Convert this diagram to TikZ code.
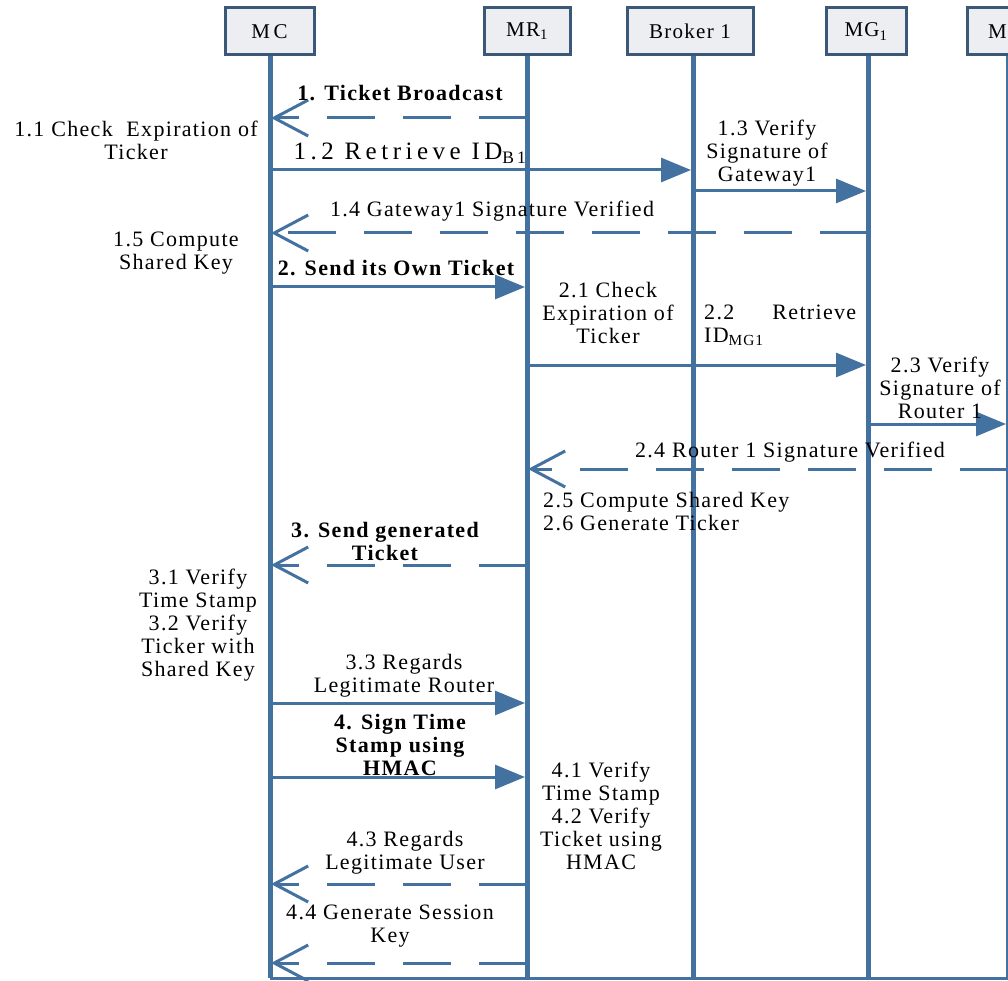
\documentclass[tikz,border=0pt]{standalone}
\usepackage{fontspec}
\setmainfont[LetterSpace=6]{Liberation Serif}
\usetikzlibrary{arrows.meta}
\definecolor{lifeblue}{RGB}{68,114,160}
\definecolor{boxedge}{RGB}{60,88,120}
\definecolor{boxfill}{RGB}{236,238,242}
\tikzset{
  actor/.style={draw=boxedge, line width=3pt, fill=boxfill, minimum height=47pt,
    inner sep=0pt, font=\fontsize{21}{23}\selectfont},
  lifeline/.style={draw=lifeblue, line width=5pt},
  msg/.style={draw=lifeblue, line width=3pt, -{Triangle[length=30pt,width=24pt]}},
  reply/.style={draw=lifeblue, line width=3pt, dash pattern=on 48pt off 28pt,
    -{Straight Barb[length=34pt,width=36pt,line width=3pt]}},
  lbl/.style={font=\fontsize{22}{23}\selectfont, align=center, inner sep=0pt},
  blbl/.style={lbl, font=\fontsize{22}{23}\selectfont\bfseries},
}
\begin{document}
\begin{tikzpicture}[x=1pt,y=-1pt]
\useasboundingbox (0,0) rectangle (1008,981);
\clip (0,0) rectangle (1008,981);

% participants
\node[actor, minimum width=89pt] (mc) at (269.5,31.5) {M\,C};
\node[actor, minimum width=86pt] (mr) at (527,31.5) {MR\textsubscript{1}};
\node[actor, minimum width=126pt] (br) at (690,31.5) {Broker 1};
\node[actor, minimum width=80pt] (mg) at (866,31.5) {MG\textsubscript{1}};
\node[actor, minimum width=84pt] (mr2) at (1009,31.5) {};
\node[font=\fontsize{21}{23}\selectfont, anchor=west, inner sep=0pt] (mr2t) at (988,31.5) {M};

% lifeline ends
\coordinate (mcB) at (270,978);
\coordinate (mrB) at (527,978);
\coordinate (brB) at (693,978);
\coordinate (mgB) at (868,978);
\coordinate (mr2B) at (1008,978);
\coordinate (edge) at (1010,978);

\draw[lifeline] (mc.south -| mcB) -- (mcB);
\draw[lifeline] (mr.south -| mrB) -- (mrB);
\draw[lifeline] (br.south -| brB) -- (brB);
\draw[lifeline] (mg.south -| mgB) -- (mgB);
\draw[lifeline] (mr2.south -| mr2B) -- (mr2B);
\draw[draw=lifeblue, line width=3pt] (mcB) -- (edge);

% message end points
\coordinate (a1s) at (527,118);  \coordinate (a1e) at (271,118);
\coordinate (a2s) at (270,170);  \coordinate (a2e) at (691,170);
\coordinate (a3s) at (693,191);  \coordinate (a3e) at (866,191);
\coordinate (a4s) at (868,233);  \coordinate (a4e) at (271,233);
\coordinate (a5s) at (270,287);  \coordinate (a5e) at (525,287);
\coordinate (a6s) at (527,365);  \coordinate (a6e) at (866,365);
\coordinate (a7s) at (868,424);  \coordinate (a7e) at (1006,424);
\coordinate (a8s) at (1008,469); \coordinate (a8e) at (528,469);
\coordinate (a9s) at (527,565);  \coordinate (a9e) at (271,565);
\coordinate (a10s) at (270,703); \coordinate (a10e) at (525,703);
\coordinate (a11s) at (270,777); \coordinate (a11e) at (525,777);
\coordinate (a12s) at (527,884); \coordinate (a12e) at (271,884);
\coordinate (a13s) at (527,963); \coordinate (a13e) at (271,963);

% messages
\draw[reply] (a1s) -- (a1e);
\draw[msg] (a2s) -- (a2e);
\draw[msg] (a3s) -- (a3e);
\draw[reply] (a4s) -- (a4e);
\draw[msg] (a5s) -- (a5e);
\draw[msg] (a6s) -- (a6e);
\draw[msg] (a7s) -- (a7e);
\draw[reply] (a8s) -- (a8e);
\draw[reply] (a9s) -- (a9e);
\draw[msg] (a10s) -- (a10e);
\draw[msg] (a11s) -- (a11e);
\draw[reply] (a12s) -- (a12e);
\draw[reply] (a13s) -- (a13e);

% labels
\node[blbl] (t1) at (400,93) {1. Ticket Broadcast};
\node[lbl] (t11) at (136,140) {1.1 Check\ \ Expiration of\\Ticker};
\node[lbl, font=\fontsize{25}{26}\selectfont\addfontfeature{LetterSpace=18}] (t12) at (410,153)
  {1.2 Retrieve ID\textsubscript{B1}};
\node[lbl] (t13) at (767,153) {1.3 Verify\\Signature of\\Gateway1};
\node[lbl] (t14) at (492,211) {1.4 Gateway1 Signature Verified};
\node[lbl] (t15) at (176,253) {1.5 Compute\\Shared Key};
\node[blbl] (t2) at (396,268) {2. Send its Own Ticket};
\node[lbl] (t21) at (608,313) {2.1 Check\\Expiration of\\Ticker};
\node[lbl, anchor=west, align=left] (t22) at (704,325)
  {\makebox[152pt][s]{2.2\hfill Retrieve}\\ID\textsubscript{MG1}};
\node[lbl] (t23) at (940,388) {2.3 Verify\\Signature of\\Router 1};
\node[lbl] (t24) at (790,452) {2.4 Router 1 Signature Verified};
\node[lbl, anchor=west, align=left] (t25) at (543,512)
  {2.5 Compute Shared Key\\2.6 Generate Ticker};
\node[blbl] (t3) at (385,541) {3. Send generated\\Ticket};
\node[lbl] (t31) at (198,625)
  {3.1 Verify\\Time Stamp\\3.2 Verify\\Ticker with\\Shared Key};
\node[lbl] (t33) at (404,676) {3.3 Regards\\Legitimate Router};
\node[blbl] (t4) at (400,745) {4. Sign Time\\Stamp using\\HMAC};
\node[lbl] (t41) at (601,816)
  {4.1 Verify\\Time Stamp\\4.2 Verify\\Ticket using\\HMAC};
\node[lbl] (t43) at (405,853) {4.3 Regards\\Legitimate User};
\node[lbl] (t44) at (390,926) {4.4 Generate Session\\Key};
\end{tikzpicture}
\end{document}
